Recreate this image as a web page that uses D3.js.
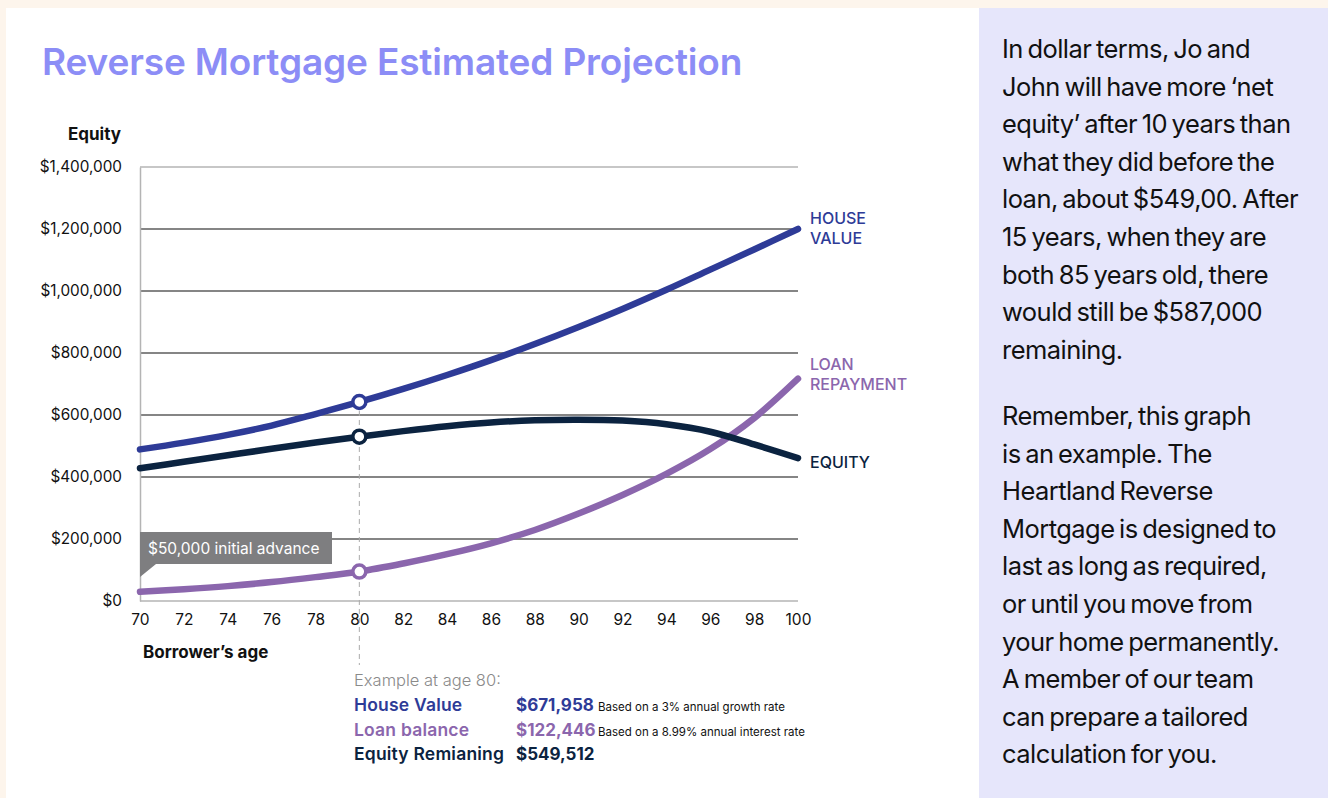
<!DOCTYPE html>
<html>
<head>
<meta charset="utf-8">
<script src="https://cdn.jsdelivr.net/npm/d3@7"></script>
<style>
  html, body { margin: 0; padding: 0; background: #fdf5ec; }
  svg { display: block; font-family: Inter, "Noto Sans", sans-serif; }
</style>
</head>
<body>
<div id="chart"></div>
<script>
// ages (x axis) and series values, in dollars
const ages = [70, 72, 74, 76, 78, 80, 82, 84, 86, 88, 90, 92, 94, 96, 98, 100];
const houseValue = [489000, 511000, 536000, 566000, 603000, 642000, 684000, 729000, 777000, 829000, 884000, 942000, 1004000, 1069000, 1134000, 1200000];
const equity = [428000, 449000, 470000, 491000, 511000, 530000, 548000, 564000, 576000, 583000, 585000, 582000, 570000, 546000, 505000, 461000];
const loanRepayment = [30000, 38000, 48000, 61000, 77000, 95000, 121000, 151000, 186000, 229000, 282000, 342000, 410000, 490000, 590000, 717000];

const xTicks = [70, 72, 74, 76, 78, 80, 82, 84, 86, 88, 90, 92, 94, 96, 98, 100];
const yTicks = [0, 200000, 400000, 600000, 800000, 1000000, 1200000, 1400000];
const highlightAge = 80;

const seriesNames = ["HOUSE VALUE", "LOAN REPAYMENT", "EQUITY"];
const seriesColors = ["#2e3b97", "#8b66ad", "#0b2340"];

const exampleRows = [
    { label: "House Value", value: "$671,958", note: "Based on a 3% annual growth rate", color: "#2e3b97" },
    { label: "Loan balance", value: "$122,446", note: "Based on a 8.99% annual interest rate", color: "#8b66ad" },
    { label: "Equity Remianing", value: "$549,512", note: "", color: "#0b2340" }
];

const sideText1 = ["In dollar terms, Jo and", "John will have more \u2018net", "equity\u2019 after 10 years than",
    "what they did before the", "loan, about $549,00. After", "15 years, when they are",
    "both 85 years old, there", "would still be $587,000", "remaining."];
const sideText2 = ["Remember, this graph", "is an example. The", "Heartland Reverse",
    "Mortgage is designed to", "last as long as required,", "or until you move from",
    "your home permanently.", "A member of our team", "can prepare a tailored", "calculation for you."];

const W = 1328, H = 798;
const svg = d3.select("#chart").append("svg")
    .attr("width", W)
    .attr("height", H);

// page panels
svg.append("rect").attr("x", 0).attr("y", 0).attr("width", W).attr("height", H).attr("fill", "#fdf5ec");
svg.append("rect").attr("x", 6).attr("y", 8).attr("width", 974).attr("height", H - 8).attr("fill", "#ffffff");
svg.append("rect").attr("x", 979).attr("y", 8).attr("width", W - 979).attr("height", H - 8).attr("fill", "#e6e6fb");

// title
svg.append("text")
    .attr("x", 42).attr("y", 75)
    .attr("fill", "#8c8df6")
    .style("font-size", "37px")
    .style("font-weight", 600)
    .style("letter-spacing", "-0.15px")
    .text("Reverse Mortgage Estimated Projection");

const x = d3.scaleLinear().domain([70, 100]).range([140, 798]);
const y = d3.scaleLinear().domain([0, 1400000]).range([601, 167]);

// gridlines
svg.append("g")
    .selectAll("line")
    .data(yTicks)
    .join("line")
    .attr("x1", x(70)).attr("x2", x(100))
    .attr("y1", d => y(d)).attr("y2", d => y(d))
    .attr("stroke", d => (d === 0 || d === 1400000) ? "#b4b4b4" : "#858585")
    .attr("stroke-width", d => (d === 0 || d === 1400000) ? 1.5 : 2);

// y axis
const yAxis = svg.append("g")
    .attr("transform", `translate(${x(70)},0)`)
    .call(d3.axisLeft(y).tickValues(yTicks).tickSize(0).tickPadding(18)
        .tickFormat(d => "$" + d3.format(",")(d)));
yAxis.select(".domain").attr("stroke", "#b4b4b4").attr("stroke-width", 1.5);
yAxis.selectAll("text")
    .style("font-size", "15.3px")
    .style("font-family", "Inter, sans-serif")
    .attr("fill", "#111");

// x axis
const xAxis = svg.append("g")
    .attr("transform", `translate(0,${y(0)})`)
    .call(d3.axisBottom(x).tickValues(xTicks).tickSize(0).tickPadding(13));
xAxis.select(".domain").remove();
xAxis.selectAll("text")
    .style("font-size", "15.5px")
    .style("font-family", "Inter, sans-serif")
    .attr("fill", "#111");

// axis titles
svg.append("text").attr("x", 121).attr("y", 140).attr("text-anchor", "end")
    .style("font-size", "17px").style("font-weight", 700).attr("fill", "#111").text("Equity");
svg.append("text").attr("x", 143).attr("y", 658)
    .style("font-size", "17px").style("font-weight", 700).attr("fill", "#111").text("Borrower\u2019s age");

// dashed guide at age 80
svg.append("line")
    .attr("x1", x(highlightAge)).attr("x2", x(highlightAge))
    .attr("y1", y(houseValue[ages.indexOf(highlightAge)])).attr("y2", 665)
    .attr("stroke", "#aaaaaa").attr("stroke-width", 1)
    .attr("stroke-dasharray", "5,4");

// initial advance annotation
const ann = svg.append("g").attr("transform", `translate(${x(70)},${y(0) - 69})`);
ann.append("path")
    .attr("d", "M0,0 H192 V32 H16 L0,45 Z")
    .attr("fill", "#7e7e80");
ann.append("text").attr("x", 8).attr("y", 22)
    .attr("fill", "#fff").style("font-size", "15.5px")
    .text("$50,000 initial advance");

// lines
const series = [houseValue, loanRepayment, equity];
const line = d3.line()
    .x((d, i) => x(ages[i]))
    .y(d => y(d))
    .curve(d3.curveCatmullRom.alpha(0.5));

svg.append("g")
    .selectAll("path")
    .data(series)
    .join("path")
    .attr("d", d => line(d))
    .attr("fill", "none")
    .attr("stroke", (d, i) => seriesColors[i])
    .attr("stroke-width", 6.5)
    .attr("stroke-linecap", "round");

// markers at age 80
const hi = ages.indexOf(highlightAge);
svg.append("g")
    .selectAll("circle")
    .data(series)
    .join("circle")
    .attr("cx", x(highlightAge))
    .attr("cy", d => y(d[hi]))
    .attr("r", 6.5)
    .attr("fill", "#fff")
    .attr("stroke", (d, i) => seriesColors[i])
    .attr("stroke-width", 3.5);

// end labels
const last = ages.length - 1;
const endLabels = [
    { lines: ["HOUSE", "VALUE"], v: houseValue[last], dy: -5 },
    { lines: ["LOAN", "REPAYMENT"], v: loanRepayment[last], dy: -9 },
    { lines: ["EQUITY"], v: equity[last], dy: 10 }
];
endLabels.forEach((l, i) => {
    const t = svg.append("text")
        .attr("x", x(100) + 12)
        .attr("y", y(l.v) + l.dy)
        .attr("fill", seriesColors[i])
        .style("font-size", "16px")
        .style("font-weight", 500);
    l.lines.forEach((s, j) => {
        t.append("tspan").attr("x", x(100) + 12).attr("dy", j === 0 ? 0 : 20).text(s);
    });
});

// example box below chart
svg.append("text").attr("x", 354).attr("y", 686)
    .attr("fill", "#8a8a8a").style("font-size", "16.5px").style("font-weight", 300)
    .text("Example at age 80:");
exampleRows.forEach((r, i) => {
    const yy = 711 + i * 24.5;
    svg.append("text").attr("x", 354).attr("y", yy).attr("fill", r.color)
        .style("font-size", "17.5px").style("font-weight", 600)
        .style("letter-spacing", "0.2px").text(r.label);
    svg.append("text").attr("x", 516).attr("y", yy).attr("fill", r.color)
        .style("font-size", "17px").style("font-weight", 700).text(r.value);
    if (r.note) {
        svg.append("text").attr("x", 598).attr("y", yy).attr("fill", "#111")
            .style("font-size", "11.5px").text(r.note);
    }
});

// right-hand text panel
const side = svg.append("g").attr("fill", "#111")
    .style("font-size", "25.5px")
    .style("letter-spacing", "-0.55px")
    .style("word-spacing", "-2px");
sideText1.forEach((s, i) => {
    side.append("text").attr("x", 1002).attr("y", 58 + i * 37.6).text(s);
});
sideText2.forEach((s, i) => {
    side.append("text").attr("x", 1002).attr("y", 425 + i * 37.6).text(s);
});
</script>
</body>
</html>
